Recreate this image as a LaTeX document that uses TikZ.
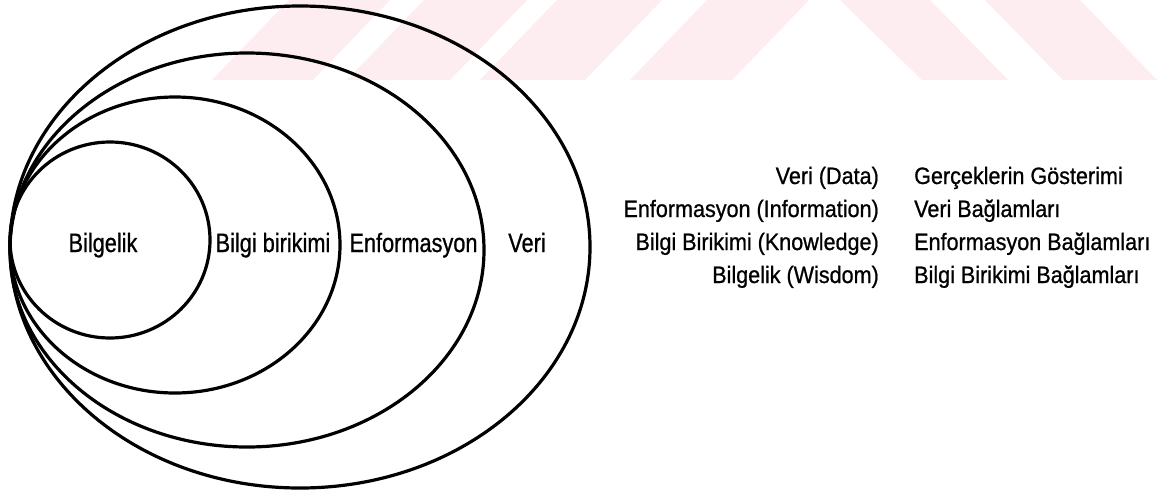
\documentclass[tikz,border=0pt]{standalone}
\usepackage{fontspec}
\usetikzlibrary{shapes.geometric}
\newfontfamily\lblfont[FakeStretch=0.82,FakeBold=0.8]{Liberation Sans}
\newfontfamily\legfont[FakeStretch=0.91,FakeBold=0.8]{Liberation Sans}
\definecolor{stripepink}{RGB}{253,237,240}
\tikzset{
  ring/.style={ellipse, draw=black, line width=3.2pt, inner sep=0pt},
  ringlabel/.style={font=\lblfont\fontsize{26.5}{30}\selectfont, inner sep=0pt, anchor=base},
  termlabel/.style={font=\legfont\fontsize{23.7}{28}\selectfont, inner sep=0pt, anchor=base east},
  meaninglabel/.style={font=\legfont\fontsize{23.7}{28}\selectfont, inner sep=0pt, anchor=base west},
  stripe/.style={fill=stripepink, draw=none}
}
\begin{document}
\begin{tikzpicture}[x=1pt, y=-1pt]
  \useasboundingbox (0,0) rectangle (1162,491);
  \fill[white] (0,0) rectangle (1162,491);

  % pale diagonal band pattern along the top edge
  \fill[stripe] (289,0) -- (390,0) -- (313,80) -- (212,80) -- cycle;
  \fill[stripe] (424,0) -- (527,0) -- (450,80) -- (347,80) -- cycle;
  \fill[stripe] (557,0) -- (662,0) -- (585,80) -- (480,80) -- cycle;
  \fill[stripe] (707,0) -- (809,0) -- (732,80) -- (630,80) -- cycle;
  \fill[stripe] (840,0) -- (930,0) -- (1008,80) -- (922,80) -- cycle;
  \fill[stripe] (985,0) -- (1080,0) -- (1157,80) -- (1063,80) -- cycle;

  % nested ellipses, all touching at the left
  \node[ring, minimum width=580pt, minimum height=482pt] (veri) at (300,247) {};
  \node[ring, minimum width=474pt, minimum height=394pt] (enf) at (247,250) {};
  \node[ring, minimum width=330pt, minimum height=296pt] (bb) at (175,245) {};
  \node[ring, minimum width=200pt, minimum height=196pt] (bil) at (110,240) {};

  % ring names
  \node[ringlabel] (tbil) at (103,252) {Bilgelik};
  \node[ringlabel] (tbb) at (273,252) {Bilgi birikimi};
  \node[ringlabel] (tenf) at (413.5,252) {Enformasyon};
  \node[ringlabel] (tveri) at (527,252) {Veri};

  % legend
  \node[termlabel] (k1) at (879,184) {Veri (Data)};
  \node[termlabel] (k2) at (879,217) {Enformasyon (Information)};
  \node[termlabel] (k3) at (879,250) {Bilgi Birikimi (Knowledge)};
  \node[termlabel] (k4) at (879,283) {Bilgelik (Wisdom)};
  \node[meaninglabel] (m1) at (914,184) {Gerçeklerin Gösterimi};
  \node[meaninglabel] (m2) at (914,217) {Veri Bağlamları};
  \node[meaninglabel] (m3) at (914,250) {Enformasyon Bağlamları};
  \node[meaninglabel] (m4) at (914,283) {Bilgi Birikimi Bağlamları};
\end{tikzpicture}
\end{document}
